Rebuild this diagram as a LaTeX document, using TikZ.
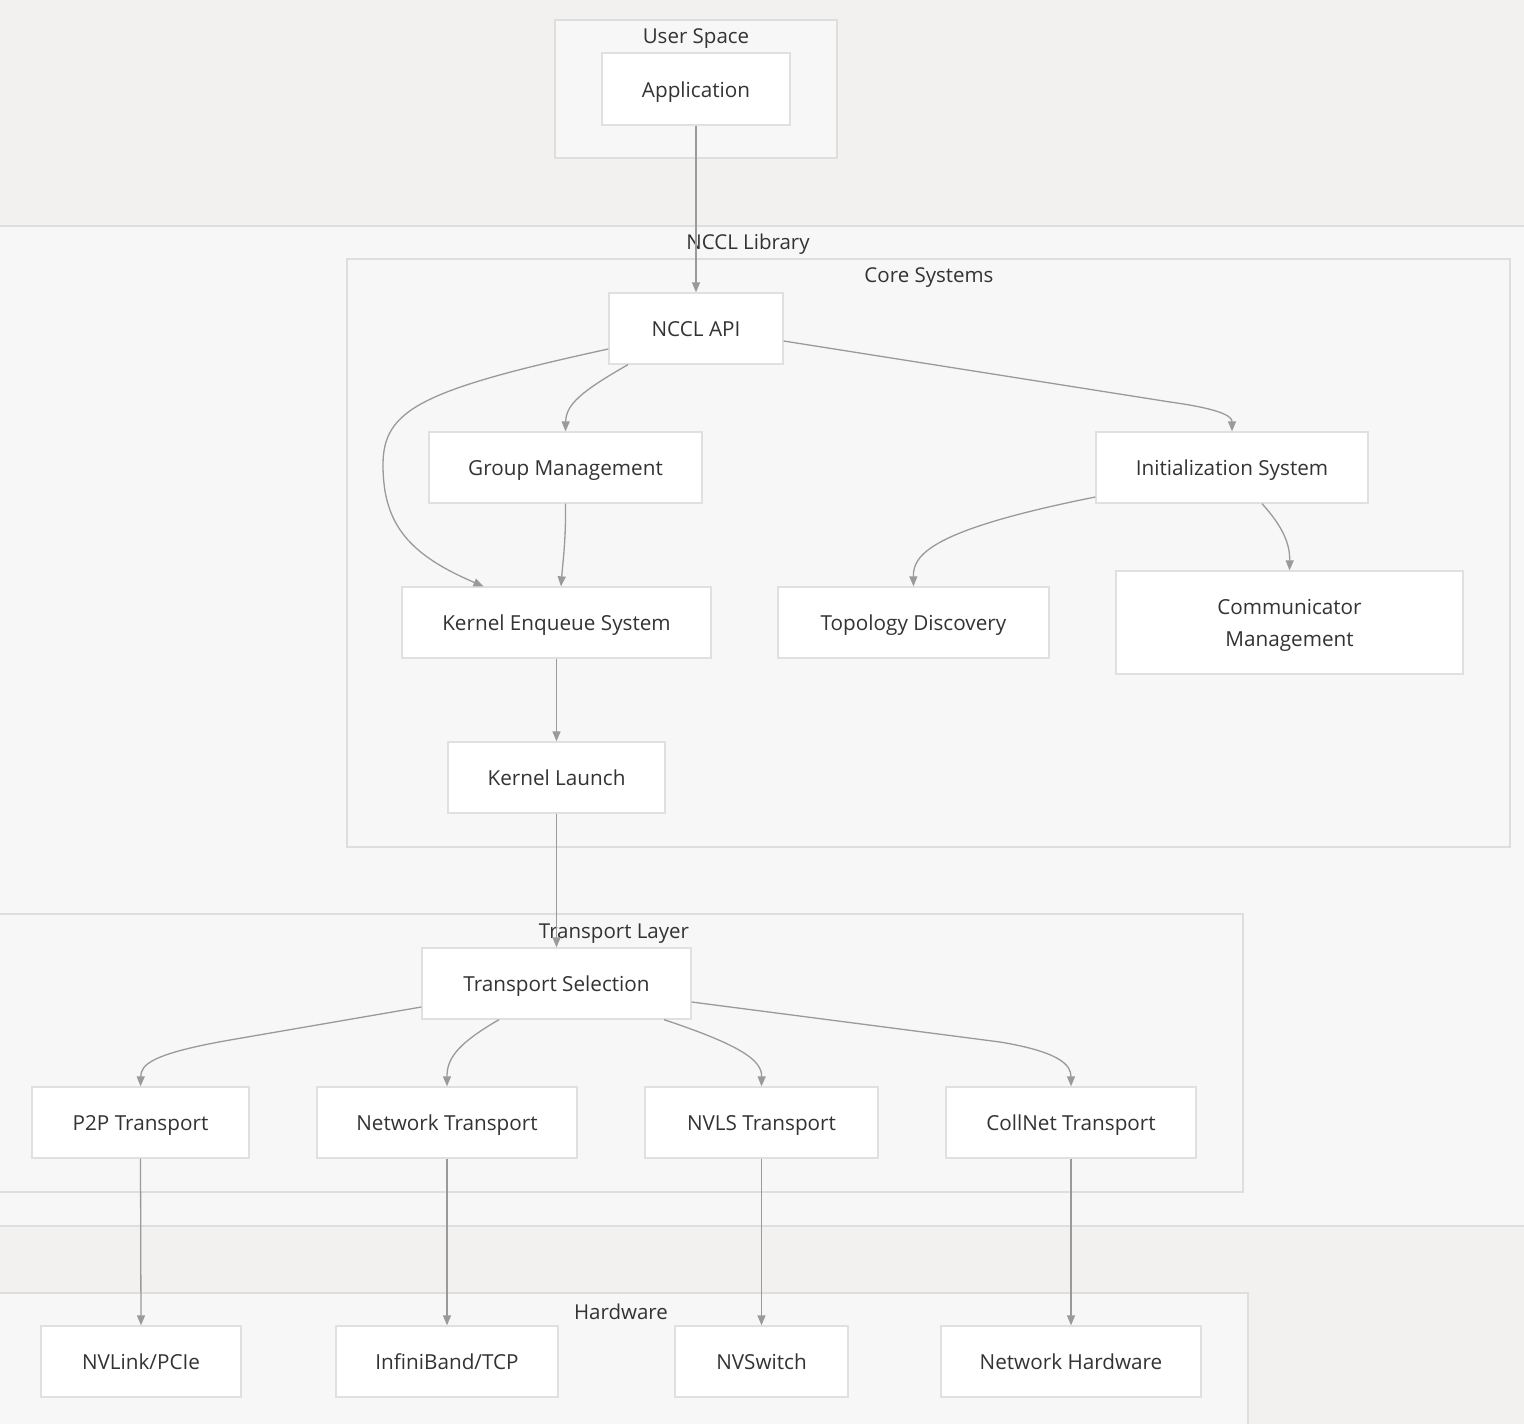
\documentclass[tikz,border=0pt]{standalone}
\usepackage{fontspec}
\setmainfont{Open Sans}
\usetikzlibrary{arrows.meta}
\definecolor{bgout}{HTML}{F2F1EF}
\definecolor{clfill}{HTML}{F7F7F7}
\definecolor{clborder}{HTML}{DEDEDE}
\definecolor{nborder}{HTML}{E0E0E0}
\definecolor{edgec}{HTML}{9A9A9A}
\definecolor{txt}{HTML}{333333}
\tikzset{
  cluster/.style={draw=clborder, fill=clfill, line width=1.3pt},
  cltitle/.style={text=txt, font=\fontsize{20.5}{24}\selectfont, inner sep=0pt},
  box/.style={draw=nborder, fill=white, line width=1.3pt, text=txt,
    font=\fontsize{20.7}{32}\selectfont, align=center, inner sep=0pt,
    text height=18pt, text depth=2pt},
  flow/.style={draw=edgec, line width=1.3pt, -{Triangle[length=10pt,width=8pt]}},
}
\begin{document}
\begin{tikzpicture}[x=1pt,y=-1pt]
\useasboundingbox (0,0) rectangle (1524,1424);
\fill[bgout] (0,0) rectangle (1524,1424);
\begin{scope}
\clip (0,0) rectangle (1524,1424);
% clusters
\draw[cluster] (555,20) rectangle (837,158);
\draw[cluster] (-10,226) rectangle (1540,1226);
\draw[cluster] (347,259) rectangle (1510,847);
\draw[cluster] (-10,914) rectangle (1243,1192);
\draw[cluster] (-10,1293) rectangle (1248,1440);
\end{scope}
\node[cltitle] (tUser) at (696,39) {User Space};
\node[cltitle] (tNccl) at (748,244) {NCCL Library};
\node[cltitle] (tCore) at (929,278) {Core Systems};
\node[cltitle] (tTrans) at (614,934) {Transport Layer};
\node[cltitle] (tHw) at (621,1312) {Hardware};
% nodes
\node[box, minimum width=188, minimum height=72] (app) at (696,89) {Application};
\node[box, minimum width=174, minimum height=71] (api) at (696,328.5) {NCCL API};
\node[box, minimum width=273, minimum height=71] (group) at (565.5,467.5) {Group Management};
\node[box, minimum width=272, minimum height=71] (init) at (1232,467.5) {Initialization System};
\node[box, minimum width=309, minimum height=71] (enq) at (556.5,622.5) {Kernel Enqueue System};
\node[box, minimum width=271, minimum height=71] (topo) at (913.5,622.5) {Topology Discovery};
\node[box, minimum width=347, minimum height=103, text height=50pt, text depth=2pt] (comm) at (1289.5,622.5) {Communicator\\Management};
\node[box, minimum width=217, minimum height=71] (launch) at (556.5,777.5) {Kernel Launch};
\node[box, minimum width=269, minimum height=71] (tsel) at (556.5,983.5) {Transport Selection};
\node[box, minimum width=217, minimum height=71] (p2p) at (140.5,1122.5) {P2P Transport};
\node[box, minimum width=260, minimum height=71] (net) at (447,1122.5) {Network Transport};
\node[box, minimum width=233, minimum height=71] (nvls) at (761.5,1122.5) {NVLS Transport};
\node[box, minimum width=250, minimum height=71] (coll) at (1071,1122.5) {CollNet Transport};
\node[box, minimum width=200, minimum height=71] (nvlink) at (141,1361.5) {NVLink/PCIe};
\node[box, minimum width=222, minimum height=71] (ib) at (447,1361.5) {InfiniBand/TCP};
\node[box, minimum width=173, minimum height=71] (nvsw) at (761.5,1361.5) {NVSwitch};
\node[box, minimum width=260, minimum height=71] (nethw) at (1071,1361.5) {Network Hardware};
% edges
\draw[flow] (app.south) -- (api.north);
\draw[flow] ([yshift=-20.5pt]api.west) .. controls (420,390) and (383,410) .. (383,465)
  .. controls (383,525) and (410,555) .. ([xshift=-73pt]enq.north);
\draw[flow] ([xshift=-68pt]api.south) .. controls (580,392) and (566,405) .. (group.north);
\draw[flow] ([yshift=-12.5pt]api.east) -- (1170,402) .. controls (1228,410) and (1232,418) .. (init.north);
\draw[flow] (group.south) .. controls (566,540) and (563,560) .. ([xshift=4.5pt]enq.north);
\draw[flow] ([yshift=-29.5pt]init.west) .. controls (930,530) and (913,555) .. (topo.north);
\draw[flow] ([xshift=30pt]init.south) .. controls (1284,528) and (1290,545) .. (comm.north);
\draw[flow] (enq.south) -- (launch.north);
\draw[flow] (launch.south) -- (tsel.north);
\draw[flow] ([yshift=-23.5pt]tsel.west) -- (230,1040) .. controls (150,1054) and (141,1065) .. (p2p.north);
\draw[flow] ([xshift=-57.5pt]tsel.south) .. controls (455,1045) and (447,1060) .. (net.north);
\draw[flow] ([xshift=107.5pt]tsel.south) .. controls (740,1045) and (762,1060) .. (nvls.north);
\draw[flow] ([yshift=-18.5pt]tsel.east) -- (1000,1042) .. controls (1060,1052) and (1071,1065) .. (coll.north);
\draw[flow] (p2p.south) -- (nvlink.north);
\draw[flow] (net.south) -- (ib.north);
\draw[flow] (nvls.south) -- (nvsw.north);
\draw[flow] (coll.south) -- (nethw.north);
\end{tikzpicture}
\end{document}
